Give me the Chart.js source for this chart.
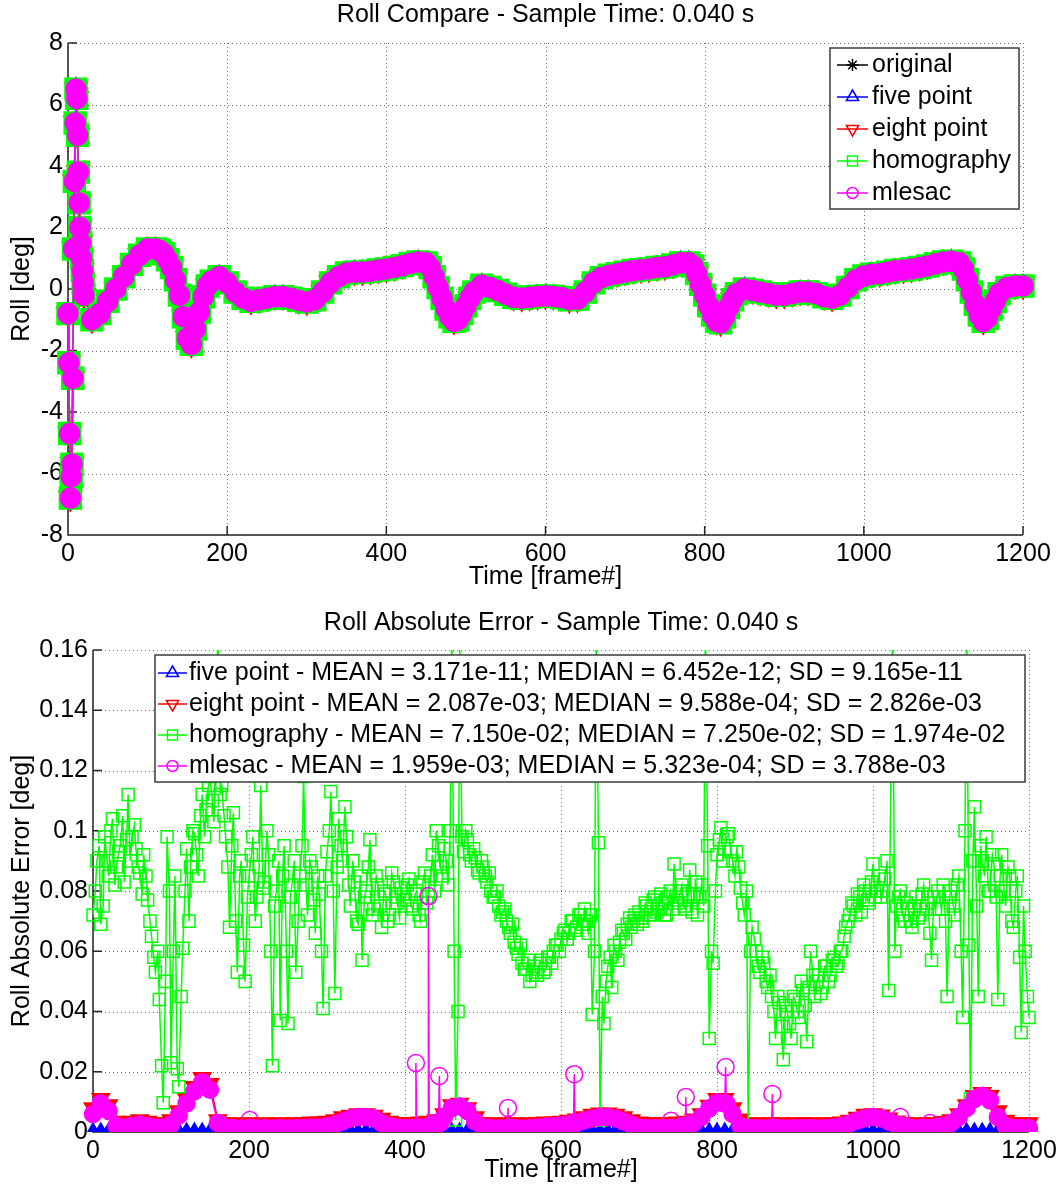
<!DOCTYPE html>
<html>
<head>
<meta charset="UTF-8">
<title>Roll Compare</title>
<script src="https://cdn.jsdelivr.net/npm/chart.js"></script>
<style>
  body { margin: 0; background: #fff; }
  #wrap { position: relative; width: 1062px; height: 1189px; }
  canvas { position: absolute; left: 0; }
</style>
</head>
<body>
<div id="wrap">
  <canvas id="rollChart" width="1062" height="600" style="top:0"></canvas>
  <canvas id="errChart" width="1062" height="589" style="top:600px"></canvas>
</div>
<script>
// ---- data ----
const seriesNames = ['original', 'five point', 'eight point', 'homography', 'mlesac'];
const errLegendText = [
  'five point - MEAN = 3.171e-11; MEDIAN = 6.452e-12; SD = 9.165e-11',
  'eight point - MEAN = 2.087e-03; MEDIAN = 9.588e-04; SD = 2.826e-03',
  'homography - MEAN = 7.150e-02; MEDIAN = 7.250e-02; SD = 1.974e-02',
  'mlesac - MEAN = 1.959e-03; MEDIAN = 5.323e-04; SD = 3.788e-03'
];

const frameTicks = [0, 200, 400, 600, 800, 1000, 1200];
const frameTickLabels = ['0', '200', '400', '600', '800', '1000', '1200'];
const rollTicks = [-8, -6, -4, -2, 0, 2, 4, 6, 8];
const rollTickLabels = ['-8', '-6', '-4', '-2', '0', '2', '4', '6', '8'];
const errTicks = [0, 0.02, 0.04, 0.06, 0.08, 0.1, 0.12, 0.14, 0.16];
const errTickLabels = ['0', '0.02', '0.04', '0.06', '0.08', '0.1', '0.12', '0.14', '0.16'];

// roll [deg]; the five estimates overlap within a marker, one reading serves them all
const rollFrames = [0,1,2,3,4,5,6,7,8,9,10,11,12,13,14,15,16,17,18,19,20,
  30,40,50,60,70,80,90,100,110,115,120,125,130,135,140,145,150,155,160,165,170,175,180,190,200,
  210,220,230,240,250,260,270,280,290,300,310,320,330,340,350,360,370,380,390,400,
  410,420,430,440,450,455,460,465,470,475,480,485,490,495,500,505,510,520,530,540,550,560,570,580,590,600,
  610,620,630,640,650,660,670,680,690,700,710,720,730,740,750,760,770,780,785,790,795,800,
  805,810,815,820,825,830,835,840,850,860,870,880,890,900,910,920,930,940,950,960,970,980,990,1000,
  1010,1020,1030,1040,1050,1060,1070,1080,1090,1100,1110,1120,1125,1130,1135,1140,1145,1150,1155,1160,1165,1170,1180,1190,1200];
const rollDeg = [-0.8,-2.4,-4.7,-6.8,-6.1,-5.7,-2.9,1.3,3.5,5.4,6.5,6.2,5.0,3.8,2.8,2.0,1.5,1.0,0.6,0.2,-0.2,
  -1.0,-0.8,-0.4,0.0,0.4,0.8,1.1,1.3,1.3,1.25,1.15,0.95,0.7,0.3,-0.2,-0.9,-1.6,-1.8,-1.3,-0.75,-0.25,0.1,0.25,0.4,0.2,
  -0.1,-0.3,-0.4,-0.35,-0.3,-0.25,-0.25,-0.3,-0.37,-0.42,-0.35,-0.1,0.2,0.4,0.52,0.55,0.55,0.58,0.62,0.65,
  0.7,0.76,0.83,0.88,0.85,0.7,0.4,0.05,-0.3,-0.65,-0.9,-1.05,-1.0,-0.8,-0.55,-0.3,-0.1,0.12,0.05,-0.05,-0.17,-0.27,-0.3,-0.27,-0.24,-0.23,
  -0.24,-0.28,-0.35,-0.33,-0.1,0.2,0.37,0.45,0.5,0.55,0.6,0.63,0.65,0.7,0.72,0.78,0.85,0.85,0.75,0.5,0.15,-0.2,
  -0.55,-0.85,-1.05,-1.1,-0.9,-0.6,-0.35,-0.15,0.0,-0.05,-0.1,-0.15,-0.2,-0.2,-0.15,-0.1,-0.1,-0.15,-0.25,-0.3,-0.2,0.05,0.3,0.42,
  0.48,0.5,0.55,0.6,0.62,0.65,0.7,0.75,0.82,0.88,0.9,0.85,0.65,0.3,-0.1,-0.5,-0.85,-1.05,-0.95,-0.65,-0.4,-0.15,0.05,0.1,0.1];

// absolute error [deg], every 10 frames
const errFrames = [0,10,20,30,40,50,60,70,80,90,100,110,120,130,140,150,160,170,180,190,
  200,210,220,230,240,250,260,270,280,290,300,310,320,330,340,350,360,370,380,390,
  400,410,420,430,440,450,460,470,480,490,500,510,520,530,540,550,560,570,580,590,
  600,610,620,630,640,650,660,670,680,690,700,710,720,730,740,750,760,770,780,790,
  800,810,820,830,840,850,860,870,880,890,900,910,920,930,940,950,960,970,980,990,
  1000,1010,1020,1030,1040,1050,1060,1070,1080,1090,1100,1110,1120,1130,1140,1150,1160,1170,1180,1190,1200];
const errFivePoint = [0,0,0,0,0,0,0,0,0,0,0,0,0,0,0,0,0,0,0,0,
  0,0,0,0,0,0,0,0,0,0,0,0,0,0,0,0,0,0,0,0,
  0,0,0,0,0,0,0,0,0,0,0,0,0,0,0,0,0,0,0,0,
  0,0,0,0,0,0,0,0,0,0,0,0,0,0,0,0,0,0,0,0,
  0,0,0,0,0,0,0,0,0,0,0,0,0,0,0,0,0,0,0,0,
  0,0,0,0,0,0,0,0,0,0,0,0,0,0,0,0,0,0,0,0,0];
const errEightPoint = [0.008,0.011,0.009,0.0035,0.003,0.0035,0.004,0.0035,0.003,0.003,
  0.004,0.007,0.011,0.015,0.018,0.016,0.004,0.003,0.003,0.0028,
  0.003,0.0028,0.003,0.0028,0.003,0.0028,0.003,0.003,0.0032,0.0032,
  0.0035,0.004,0.005,0.0055,0.006,0.006,0.0055,0.0045,0.0035,0.003,
  0.003,0.003,0.0032,0.0035,0.004,0.006,0.009,0.0095,0.008,0.005,
  0.003,0.003,0.0028,0.003,0.003,0.0028,0.003,0.003,0.0032,0.0032,
  0.0035,0.0038,0.0042,0.005,0.0058,0.0062,0.0062,0.0058,0.005,0.004,
  0.0032,0.003,0.003,0.003,0.003,0.0032,0.0035,0.0042,0.006,0.0088,
  0.011,0.011,0.008,0.0042,0.003,0.003,0.0028,0.003,0.003,0.0028,
  0.003,0.003,0.003,0.0028,0.003,0.003,0.0032,0.0038,0.0048,0.0058,
  0.006,0.0056,0.0046,0.0036,0.003,0.003,0.0028,0.003,0.003,0.0034,
  0.004,0.006,0.009,0.012,0.013,0.012,0.007,0.0038,0.003,0.003,0.003];
const errMlesac = [0.006,0.0095,0.007,0.002,0.0015,0.002,0.0025,0.002,0.0015,0.0015,
  0.0025,0.0055,0.0095,0.0135,0.0165,0.014,0.003,0.0015,0.0013,0.0012,
  0.0013,0.0012,0.0013,0.0012,0.0013,0.0012,0.0013,0.0013,0.0015,0.0015,
  0.002,0.0025,0.0035,0.0045,0.005,0.005,0.0045,0.003,0.002,0.0015,
  0.0013,0.0013,0.0015,0.002,0.003,0.005,0.008,0.0085,0.007,0.0035,
  0.0015,0.0013,0.0012,0.0013,0.0013,0.0012,0.0013,0.0015,0.0018,0.002,
  0.0022,0.0025,0.003,0.0038,0.0045,0.005,0.005,0.0045,0.0035,0.0025,
  0.0015,0.0013,0.0013,0.0013,0.0013,0.0015,0.002,0.003,0.005,0.0078,
  0.0098,0.0095,0.006,0.002,0.0013,0.0013,0.0012,0.0013,0.0013,0.0012,
  0.0013,0.0013,0.0013,0.0012,0.0013,0.0015,0.002,0.0028,0.0038,0.0046,
  0.005,0.0045,0.0035,0.0025,0.0015,0.0013,0.0013,0.0013,0.0015,0.002,
  0.003,0.005,0.008,0.011,0.012,0.0105,0.005,0.002,0.0013,0.0013,0.0013];
// mlesac single-frame outliers: (frame before, outlier, frame after)
const mlesacSpikeFrames = [200,201,202, 413,414,415, 429,430,431, 443,444,445, 531,532,533, 616,617,618,
  740,741,742, 759,760,761, 810,811,812, 870,871,872, 1034,1035,1036, 1072,1073,1074];
const mlesacSpikeErr = [0.0013,0.004,0.0013, 0.0013,0.0229,0.0013, 0.0015,0.0783,0.0015, 0.003,0.0186,0.003,
  0.0013,0.008,0.0013, 0.003,0.0192,0.003, 0.0013,0.0037,0.0013, 0.002,0.0116,0.002,
  0.0095,0.0216,0.0095, 0.0013,0.0126,0.0013, 0.0022,0.005,0.0022, 0.0013,0.003,0.0013];

// homography error, frames 0,5,10,...
const homographyFrames = [0,5,10,15,20,25,30,35,40,45,50,55,60,65,70,75,80,85,90,95,
  100,105,110,115,120,125,130,135,140,145,150,155,160,165,170,175,180,185,190,195,
  200,205,210,215,220,225,230,235,240,245,250,255,260,265,270,275,280,285,290,295,
  300,305,310,315,320,325,330,335,340,345,350,355,360,365,370,375,380,385,390,395,
  400,405,410,415,420,425,430,435,440,445,450,455,460,465,470,475,480,485,490,495,
  500,505,510,515,520,525,530,535,540,545,550,555,560,565,570,575,580,585,590,595,
  600,605,610,615,620,625,630,635,640,645,650,655,660,665,670,675,680,685,690,695,
  700,705,710,715,720,725,730,735,740,745,750,755,760,765,770,775,780,785,790,795,
  800,805,810,815,820,825,830,835,840,845,850,855,860,865,870,875,880,885,890,895,
  900,905,910,915,920,925,930,935,940,945,950,955,960,965,970,975,980,985,990,995,
  1000,1005,1010,1015,1020,1025,1030,1035,1040,1045,1050,1055,1060,1065,1070,1075,1080,1085,1090,1095,
  1100,1105,1110,1115,1120,1125,1130,1135,1140,1145,1150,1155,1160,1165,1170,1175,1180,1185,1190,1195,
  1200];
const errHomography = [0.072,0.090,0.069,0.098,0.085,0.104,0.088,0.095,0.083,0.112,0.098,0.094,0.086,0.092,0.077,0.065,0.053,0.044,0.0097,0.098,
  0.023,0.085,0.015,0.061,0.094,0.088,0.099,0.085,0.112,0.107,0.118,0.103,0.170,0.115,0.098,0.068,0.106,0.053,0.090,0.050,
  0.085,0.098,0.078,0.115,0.083,0.092,0.022,0.080,0.037,0.095,0.036,0.082,0.053,0.085,0.118,0.072,0.088,0.066,0.079,0.041,
  0.093,0.113,0.046,0.104,0.090,0.098,0.075,0.083,0.069,0.057,0.080,0.097,0.074,0.082,0.068,0.079,0.072,0.083,0.076,0.081,
  0.077,0.084,0.074,0.080,0.070,0.086,0.078,0.092,0.100,0.088,0.094,0.082,0.170,0.004,0.165,0.093,0.097,0.090,0.091,0.086,
  0.088,0.083,0.080,0.078,0.075,0.073,0.070,0.066,0.063,0.059,0.056,0.054,0.050,0.055,0.052,0.057,0.054,0.058,0.060,0.062,
  0.064,0.067,0.066,0.070,0.068,0.072,0.074,0.066,0.039,0.170,0.004,0.036,0.055,0.048,0.060,0.063,0.066,0.069,0.068,0.072,
  0.073,0.070,0.075,0.072,0.078,0.074,0.076,0.072,0.080,0.089,0.076,0.082,0.074,0.087,0.078,0.072,0.082,0.170,0.031,0.056,
  0.092,0.101,0.094,0.099,0.090,0.093,0.081,0.072,0.001,0.068,0.060,0.053,0.056,0.048,0.045,0.031,0.043,0.024,0.040,0.031,
  0.044,0.038,0.047,0.030,0.060,0.045,0.052,0.048,0.055,0.052,0.058,0.056,0.060,0.068,0.072,0.075,0.079,0.073,0.080,0.076,
  0.089,0.080,0.078,0.084,0.047,0.170,0.075,0.080,0.070,0.074,0.068,0.078,0.072,0.082,0.076,0.057,0.074,0.078,0.082,0.045,
  0.080,0.072,0.085,0.038,0.170,0.011,0.108,0.045,0.090,0.098,0.080,0.089,0.044,0.092,0.075,0.085,0.068,0.085,0.033,0.060,
  0.038];
// homography error, in-between frames 3,8,13,...
const homographyMidFrames = [3,8,13,18,23,28,33,38,43,48,53,58,63,68,73,78,83,88,93,98,
  103,108,113,118,123,128,133,138,143,148,153,158,163,168,173,178,183,188,193,198,
  203,208,213,218,223,228,233,238,243,248,253,258,263,268,273,278,283,288,293,298,
  303,308,313,318,323,328,333,338,343,348,353,358,363,368,373,378,383,388,393,398,
  403,408,413,418,423,428,433,438,443,448,453,458,463,468,473,478,483,488,493,498,
  503,508,513,518,523,528,533,538,543,548,553,558,563,568,573,578,583,588,593,598,
  603,608,613,618,623,628,633,638,643,648,653,658,663,668,673,678,683,688,693,698,
  703,708,713,718,723,728,733,738,743,748,753,758,763,768,773,778,783,788,793,798,
  803,808,813,818,823,828,833,838,843,848,853,858,863,868,873,878,883,888,893,898,
  903,908,913,918,923,928,933,938,943,948,953,958,963,968,973,978,983,988,993,998,
  1003,1008,1013,1018,1023,1028,1033,1038,1043,1048,1053,1058,1063,1068,1073,1078,1083,1088,1093,1098,
  1103,1108,1113,1118,1123,1128,1133,1138,1143,1148,1153,1158,1163,1168,1173,1178,1183,1188,1193,1198];
const errHomographyMid = [0.080,0.095,0.075,0.090,0.100,0.082,0.093,0.105,0.097,0.090,0.102,0.088,0.079,0.085,0.070,0.058,0.060,0.022,0.050,0.080,
  0.060,0.021,0.045,0.080,0.070,0.100,0.092,0.105,0.098,0.115,0.110,0.125,0.112,0.105,0.088,0.095,0.070,0.085,0.062,0.078,
  0.092,0.070,0.088,0.081,0.100,0.060,0.075,0.090,0.085,0.060,0.078,0.090,0.070,0.095,0.082,0.090,0.077,0.085,0.060,0.085,
  0.100,0.080,0.088,0.095,0.108,0.082,0.090,0.070,0.085,0.078,0.088,0.072,0.085,0.075,0.080,0.070,0.086,0.078,0.071,0.079,
  0.082,0.075,0.079,0.072,0.083,0.076,0.085,0.080,0.095,0.085,0.090,0.100,0.060,0.040,0.098,0.100,0.092,0.094,0.087,0.090,
  0.085,0.086,0.078,0.080,0.072,0.074,0.068,0.069,0.061,0.062,0.054,0.057,0.052,0.053,0.056,0.053,0.058,0.056,0.062,0.060,
  0.066,0.064,0.070,0.067,0.072,0.069,0.070,0.072,0.060,0.096,0.045,0.050,0.058,0.062,0.057,0.067,0.064,0.071,0.070,0.069,
  0.071,0.076,0.072,0.077,0.073,0.079,0.072,0.078,0.074,0.077,0.080,0.075,0.079,0.073,0.083,0.078,0.075,0.095,0.060,0.080,
  0.097,0.090,0.098,0.093,0.085,0.088,0.076,0.080,0.060,0.064,0.055,0.058,0.050,0.052,0.040,0.045,0.035,0.042,0.036,0.045,
  0.040,0.050,0.042,0.048,0.052,0.050,0.046,0.055,0.050,0.057,0.055,0.060,0.065,0.070,0.076,0.072,0.078,0.082,0.077,0.083,
  0.078,0.085,0.080,0.090,0.120,0.060,0.078,0.072,0.076,0.070,0.075,0.071,0.079,0.074,0.066,0.078,0.080,0.074,0.070,0.078,
  0.075,0.082,0.060,0.100,0.062,0.090,0.075,0.095,0.085,0.080,0.092,0.078,0.085,0.080,0.088,0.070,0.080,0.058,0.075,0.045];

// ---- drawing ----
const FONT = "'Liberation Sans', Arial, Helvetica, sans-serif";
Chart.defaults.font.family = FONT;
Chart.defaults.font.size = 25;
Chart.defaults.color = '#000';

const BLACK = '#000000', BLUE = '#0000ff', RED = '#ff0000', GREEN = '#00ff00', MAGENTA = '#ff00ff';

function pts(xs, ys) {
  return xs.map((x, i) => ({ x: x, y: ys[i] }));
}

function tickLabel(values, labels) {
  return v => {
    const i = values.findIndex(t => Math.abs(t - v) < 1e-9);
    return i >= 0 ? labels[i] : '';
  };
}

// MATLAB-like marker for the legend
function marker(ctx, style, x, y, r) {
  ctx.beginPath();
  if (style === 'circle') {
    ctx.arc(x, y, r, 0, Math.PI * 2);
  } else if (style === 'triangle') {
    ctx.moveTo(x, y - r); ctx.lineTo(x + r * 0.87, y + r * 0.5); ctx.lineTo(x - r * 0.87, y + r * 0.5); ctx.closePath();
  } else if (style === 'triangleDown') {
    ctx.moveTo(x, y + r); ctx.lineTo(x + r * 0.87, y - r * 0.5); ctx.lineTo(x - r * 0.87, y - r * 0.5); ctx.closePath();
  } else if (style === 'rect') {
    ctx.rect(x - r, y - r, 2 * r, 2 * r);
  } else if (style === 'star') {
    for (let k = 0; k < 4; k++) {
      const a = k * Math.PI / 4;
      ctx.moveTo(x - Math.cos(a) * r, y - Math.sin(a) * r);
      ctx.lineTo(x + Math.cos(a) * r, y + Math.sin(a) * r);
    }
  }
  ctx.stroke();
}

const matlabAxes = {
  id: 'matlabAxes',
  beforeDatasetsDraw(chart, args, o) {
    const { ctx, chartArea: a } = chart;
    const xs = chart.scales.x, ys = chart.scales.y;
    ctx.save();
    // dotted grid
    ctx.strokeStyle = '#707070';
    ctx.lineWidth = 1;
    ctx.setLineDash([1, 3]);
    ctx.beginPath();
    xs.ticks.forEach(t => {
      const p = Math.round(xs.getPixelForValue(t.value)) + 0.5;
      ctx.moveTo(p, a.top); ctx.lineTo(p, a.bottom);
    });
    ys.ticks.forEach(t => {
      const p = Math.round(ys.getPixelForValue(t.value)) + 0.5;
      ctx.moveTo(a.left, p); ctx.lineTo(a.right, p);
    });
    ctx.stroke();
    // solid left / bottom axes with inward ticks
    ctx.setLineDash([]);
    ctx.strokeStyle = '#262626';
    ctx.lineWidth = 1.5;
    ctx.beginPath();
    ctx.moveTo(a.left, a.top); ctx.lineTo(a.left, a.bottom); ctx.lineTo(a.right, a.bottom);
    xs.ticks.forEach(t => {
      const p = xs.getPixelForValue(t.value);
      ctx.moveTo(p, a.bottom); ctx.lineTo(p, a.bottom - 9);
    });
    ys.ticks.forEach(t => {
      const p = ys.getPixelForValue(t.value);
      ctx.moveTo(a.left, p); ctx.lineTo(a.left + 9, p);
    });
    ctx.stroke();
    ctx.restore();
  },
  afterDatasetsDraw(chart, args, o) {
    const ctx = chart.ctx, L = o.legend;
    ctx.save();
    ctx.fillStyle = '#fff';
    ctx.fillRect(L.x, L.y, L.w, L.h);
    ctx.strokeStyle = '#3c3c3c';
    ctx.lineWidth = 1.5;
    ctx.strokeRect(L.x, L.y, L.w, L.h);
    ctx.font = '25px ' + FONT;
    ctx.textBaseline = 'middle';
    ctx.textAlign = 'left';
    L.items.forEach((it, i) => {
      const cy = L.y + L.first + i * L.step;
      ctx.strokeStyle = it.color;
      ctx.lineWidth = 1.5;
      ctx.beginPath();
      ctx.moveTo(L.x + L.lineFrom, cy); ctx.lineTo(L.x + L.lineTo, cy);
      ctx.stroke();
      marker(ctx, it.style, L.x + (L.lineFrom + L.lineTo) / 2, cy, it.r);
      ctx.fillStyle = '#000';
      ctx.fillText(it.text, L.x + L.textX, cy);
    });
    ctx.restore();
  },
  afterDraw(chart, args, o) {
    const { ctx, chartArea: a } = chart;
    const cx = (a.left + a.right) / 2;
    ctx.save();
    ctx.fillStyle = '#000';
    ctx.font = '25px ' + FONT;
    ctx.textAlign = 'center';
    ctx.textBaseline = 'middle';
    ctx.fillText(o.title, cx, o.titleY);
    ctx.fillText(o.xLabel, cx, o.xLabelY);
    ctx.translate(o.yLabelX, (a.top + a.bottom) / 2);
    ctx.rotate(-Math.PI / 2);
    ctx.fillText(o.yLabel, 0, 0);
    ctx.restore();
  }
};

function xScale(height) {
  return {
    type: 'linear', min: 0, max: 1200,
    afterBuildTicks: s => { s.ticks = frameTicks.map(v => ({ value: v })); },
    afterFit: s => { s.height = height; },
    ticks: { callback: tickLabel(frameTicks, frameTickLabels), padding: 4, maxRotation: 0, autoSkip: false, color: '#000' },
    grid: { display: false, drawTicks: false },
    border: { display: false }
  };
}

function yScale(min, max, values, labels, width) {
  return {
    type: 'linear', min: min, max: max,
    afterBuildTicks: s => { s.ticks = values.map(v => ({ value: v })); },
    afterFit: s => { s.width = width; },
    ticks: { callback: tickLabel(values, labels), padding: 5, autoSkip: false, color: '#000' },
    grid: { display: false, drawTicks: false },
    border: { display: false }
  };
}

function series(label, data, color, style, r, order, extra) {
  return Object.assign({
    label: label,
    data: data,
    borderColor: color,
    borderWidth: 1.5,
    pointStyle: style === 'triangleDown' ? 'triangle' : style,
    pointRotation: style === 'triangleDown' ? 180 : 0,
    pointRadius: r,
    pointBorderColor: color,
    pointBackgroundColor: color,
    pointBorderWidth: 1.5,
    tension: 0,
    fill: false,
    order: order
  }, extra || {});
}

// ---- top: roll compare ----
new Chart(document.getElementById('rollChart'), {
  type: 'line',
  data: {
    datasets: [
      series(seriesNames[0], pts(rollFrames, rollDeg), BLACK, 'star', 8, 4),
      series(seriesNames[1], pts(rollFrames, rollDeg), BLUE, 'triangle', 11.5, 3),
      series(seriesNames[2], pts(rollFrames, rollDeg), RED, 'triangleDown', 13, 2),
      series(seriesNames[3], pts(rollFrames, rollDeg), GREEN, 'rect', 15.5, 1),
      series(seriesNames[4], pts(rollFrames, rollDeg), MAGENTA, 'circle', 10, 0)
    ]
  },
  options: {
    responsive: false, animation: false, events: [],
    clip: false,
    layout: { padding: { left: 0, top: 43, right: 39, bottom: 0 } },
    scales: {
      x: xScale(65),
      y: yScale(-8, 8, rollTicks, rollTickLabels, 68)
    },
    plugins: {
      legend: { display: false },
      tooltip: { enabled: false },
      matlabAxes: {
        title: 'Roll Compare - Sample Time: 0.040 s', titleY: 15,
        xLabel: 'Time [frame#]', xLabelY: 577,
        yLabel: 'Roll [deg]', yLabelX: 22,
        legend: {
          x: 830, y: 48, w: 189, h: 161, first: 17, step: 32, lineFrom: 7, lineTo: 38, textX: 42,
          items: [
            { text: seriesNames[0], color: BLACK, style: 'star', r: 6 },
            { text: seriesNames[1], color: BLUE, style: 'triangle', r: 7 },
            { text: seriesNames[2], color: RED, style: 'triangleDown', r: 7 },
            { text: seriesNames[3], color: GREEN, style: 'rect', r: 5 },
            { text: seriesNames[4], color: MAGENTA, style: 'circle', r: 5.5 }
          ]
        }
      }
    }
  },
  plugins: [matlabAxes]
});

// ---- bottom: absolute error ----
const mlesacPoints = pts(errFrames, errMlesac)
  .concat(mlesacSpikeFrames.map((f, i) => ({ x: f, y: mlesacSpikeErr[i], peak: i % 3 === 1 })))
  .sort((p, q) => p.x - q.x);
const homographyPoints = pts(homographyFrames, errHomography)
  .concat(pts(homographyMidFrames, errHomographyMid))
  .sort((p, q) => p.x - q.x);

new Chart(document.getElementById('errChart'), {
  type: 'line',
  data: {
    datasets: [
      series(seriesNames[1], pts(errFrames, errFivePoint), BLUE, 'triangle', 9, 3),
      series(seriesNames[2], pts(errFrames, errEightPoint), RED, 'triangleDown', 10, 2),
      series(seriesNames[3], homographyPoints, GREEN, 'rect', 8.5, 1,
        { pointBackgroundColor: 'rgba(0,0,0,0)' }),
      series(seriesNames[4], mlesacPoints, MAGENTA, 'circle', 8.5, 0,
        { pointBackgroundColor: c => (c.raw && c.raw.peak ? 'rgba(0,0,0,0)' : MAGENTA) })
    ]
  },
  options: {
    responsive: false, animation: false, events: [],
    clip: { left: 10, top: 0, right: 10, bottom: 0 },
    layout: { padding: { left: 0, top: 50, right: 33, bottom: 0 } },
    scales: {
      x: xScale(57),
      y: yScale(0, 0.16, errTicks, errTickLabels, 93)
    },
    plugins: {
      legend: { display: false },
      tooltip: { enabled: false },
      matlabAxes: {
        title: 'Roll Absolute Error - Sample Time: 0.040 s', titleY: 23,
        xLabel: 'Time [frame#]', xLabelY: 570,
        yLabel: 'Roll Absolute Error [deg]', yLabelX: 22,
        legend: {
          x: 155, y: 55, w: 870, h: 127, first: 18, step: 31, lineFrom: 3, lineTo: 32, textX: 34,
          items: [
            { text: errLegendText[0], color: BLUE, style: 'triangle', r: 7 },
            { text: errLegendText[1], color: RED, style: 'triangleDown', r: 7 },
            { text: errLegendText[2], color: GREEN, style: 'rect', r: 5 },
            { text: errLegendText[3], color: MAGENTA, style: 'circle', r: 5.5 }
          ]
        }
      }
    }
  },
  plugins: [matlabAxes]
});
</script>
</body>
</html>
